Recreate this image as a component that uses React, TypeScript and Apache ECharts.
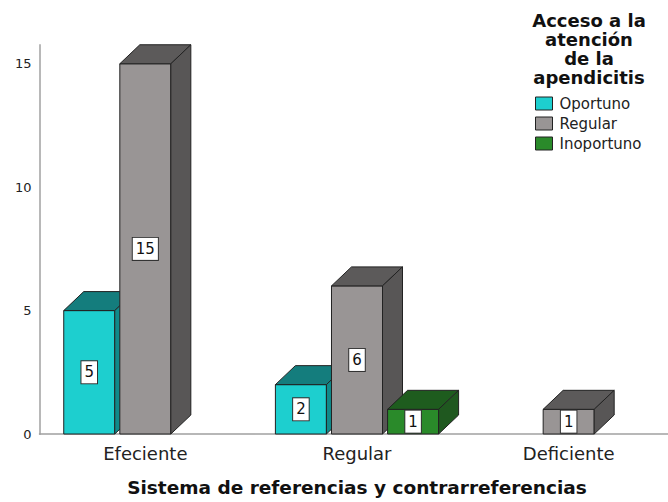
import React, { useEffect, useRef } from "react";
import * as echarts from "echarts";

const categories = ["Efeciente", "Regular", "Deficiente"];
const seriesNames = ["Oportuno", "Regular", "Inoportuno"];
const oportuno = [5, 2, 0];
const regular = [15, 6, 1];
const inoportuno = [0, 1, 0];
const yTicks = [0, 5, 10, 15];

const palette = [
  { front: "#1dcfcf", top: "#147d7d", side: "#108a8a" },
  { front: "#999595", top: "#5c5a5a", side: "#585656" },
  { front: "#2a8a2a", top: "#1e5c1e", side: "#1f581f" },
];

const FONT = "DejaVu Sans";

export default function App() {
  const ref = useRef<HTMLDivElement>(null);
  useEffect(() => {
    if (!ref.current) return;
    const chart = echarts.init(ref.current, null, { renderer: "svg" });
    const allSeries = [oportuno, regular, inoportuno];
    const depthX = 20;
    const depthY = 19;
    const series = allSeries.map((vals, sIdx) => ({
      type: "custom",
      name: seriesNames[sIdx],
      clip: false,
      itemStyle: { color: palette[sIdx].front, borderColor: "#222", borderWidth: 1 },
      data: vals.map((v, i) => [i, v]),
      renderItem: (params: any, api: any) => {
        const ci = api.value(0);
        const v = api.value(1);
        if (!v) return null;
        const band = api.size([1, 0])[0];
        const top = api.coord([ci, v]);
        const bot = api.coord([ci, 0]);
        const w = band * 0.241;
        const off = (sIdx - 1) * band * 0.265;
        const x0 = top[0] + off - w / 2;
        const x1 = x0 + w;
        const yT = top[1];
        const yB = bot[1];
        const c = palette[sIdx];
        const stroke = { stroke: "#222", lineWidth: 1 };
        return {
          type: "group",
          children: [
            {
              type: "rect",
              shape: { x: x0, y: yT, width: w, height: yB - yT },
              style: { fill: c.front, ...stroke },
            },
            {
              type: "polygon",
              shape: {
                points: [
                  [x0, yT],
                  [x1, yT],
                  [x1 + depthX, yT - depthY],
                  [x0 + depthX, yT - depthY],
                ],
              },
              style: { fill: c.top, ...stroke },
            },
            {
              type: "polygon",
              shape: {
                points: [
                  [x1, yT],
                  [x1 + depthX, yT - depthY],
                  [x1 + depthX, yB - depthY],
                  [x1, yB],
                ],
              },
              style: { fill: c.side, ...stroke },
            },
            {
              type: "text",
              x: (x0 + x1) / 2,
              y: (yT + yB) / 2,
              style: {
                text: String(v),
                fill: "#111",
                fontSize: 15,
                fontFamily: FONT,
                align: "center",
                verticalAlign: "middle",
                backgroundColor: "#fff",
                borderColor: "#333",
                borderWidth: 1,
                padding: [4, 3, 3, 3],
              },
            },
          ],
        };
      },
    }));

    chart.setOption({
      animation: false,
      backgroundColor: "#fff",
      grid: { left: 39.5, width: 635, top: 45, height: 392, containLabel: false },
      xAxis: {
        type: "category",
        data: categories,
        axisLine: { show: true, lineStyle: { color: "#a0a0a0", width: 1.5 } },
        axisTick: { show: false },
        axisLabel: { fontSize: 18, fontFamily: FONT, color: "#222", margin: 10 },
        name: "Sistema de referencias y contrarreferencias",
        nameLocation: "middle",
        nameGap: 44,
        nameTextStyle: { fontSize: 18.5, fontWeight: "bold", fontFamily: FONT, color: "#111" },
        splitLine: { show: false },
      },
      yAxis: {
        type: "value",
        min: 0,
        max: 15.76,
        interval: 5,
        axisLine: { show: true, lineStyle: { color: "#b8b8b8", width: 2 } },
        axisTick: { show: false },
        splitLine: { show: false },
        axisLabel: {
          fontSize: 13,
          fontFamily: FONT,
          color: "#222",
          margin: 8,
          formatter: (val: number) => (yTicks.includes(val) ? String(val) : ""),
        },
      },
      legend: {
        orient: "vertical",
        left: 535,
        top: 96,
        padding: 0,
        itemWidth: 17,
        itemHeight: 13,
        itemGap: 5,
        icon: "rect",
        data: seriesNames.map((n) => ({ name: n, itemStyle: { borderColor: "#222", borderWidth: 1 } })),
        textStyle: { fontSize: 15, fontFamily: FONT, color: "#222", padding: [0, 0, 0, 2] },
      },
      graphic: [
        {
          type: "text",
          x: 589,
          y: 11,
          style: {
            text: "Acceso a la\natención\nde la\napendicitis",
            fontSize: 18,
            fontWeight: "bold",
            fontFamily: FONT,
            lineHeight: 19,
            fill: "#111",
            align: "center",
          },
        },
      ],
      series,
    });
    return () => chart.dispose();
  }, []);
  return (
    <div style={{ position: "fixed", left: 0, top: 0, width: 668, height: 502, overflow: "hidden", background: "#fff" }}>
      <div ref={ref} style={{ width: 680, height: 502 }} />
    </div>
  );
}
